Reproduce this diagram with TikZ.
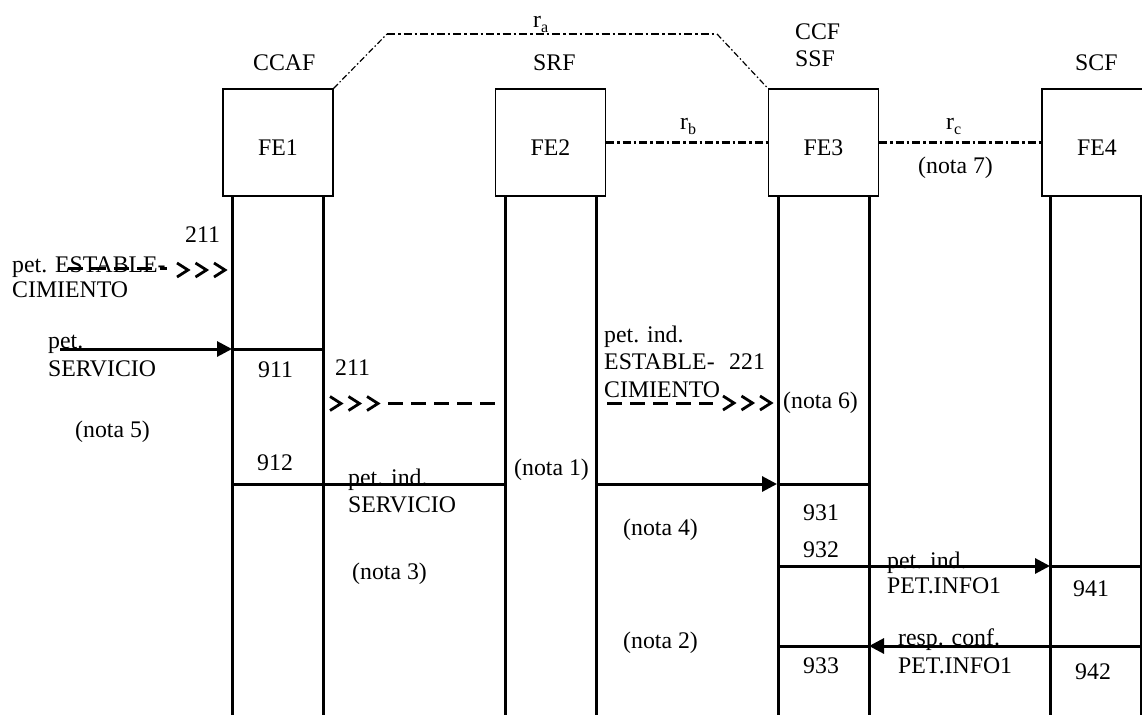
\documentclass[tikz,border=0pt]{standalone}
\usepackage{fontspec}
\setmainfont{Liberation Serif}
\usetikzlibrary{arrows.meta}
\tikzset{
  lifeline/.style={line width=3pt},
  msg/.style={line width=3pt},
  arr/.style={line width=3pt,-{Triangle[length=15pt,width=15pt]}},
  dashmsg/.style={line width=3pt,dash pattern=on 15pt off 8pt},
  rel/.style={line width=2.5pt,dash pattern=on 8pt off 3pt on 2.5pt off 3pt},
  reldiag/.style={line width=1.2pt,dash pattern=on 6pt off 2.5pt on 1.5pt off 2.5pt},
  febox/.style={draw,line width=1.3pt,minimum width=110pt,minimum height=107pt,
    text height=25pt,text depth=0pt,inner sep=0pt},
  lbl/.style={anchor=base west,inner sep=0pt},
  chevrons/.pic={
    \foreach \i in {0,1,2}{
      \draw[line width=2.8pt] ({\i*18.5},-7) -- ({\i*18.5+11},0) -- ({\i*18.5},7);
    }
  }
}
\newcommand{\subsc}[1]{\raisebox{-5pt}{\fontsize{16}{16}\selectfont #1}}
\begin{document}
\begin{tikzpicture}[x=1pt,y=-1pt,font=\fontsize{23.8}{28}\selectfont]
\useasboundingbox (0,0) rectangle (1142,715);
\clip (0,0) rectangle (1142,715);
\fill[white] (0,0) rectangle (1142,715);

% boxes
\node[febox] (fe1) at (278,142.5) {FE1};
\node[febox] (fe2) at (550.5,142.5) {FE2};
\node[febox] (fe3) at (823.5,142.5) {FE3};
\node[febox] (fe4) at (1097,142.5) {FE4};

% entity names
\node[lbl] (ccaf) at (253,70) {CCAF};
\node[lbl] (srf) at (533,70) {SRF};
\node[lbl] (ccf) at (795,39) {CCF};
\node[lbl] (ssf) at (795,66) {SSF};
\node[lbl] (scf) at (1075,70) {SCF};

% relations
\coordinate (ra1) at (387,34);
\coordinate (ra2) at (717,34);
\draw[reldiag] (fe1.north east) -- (ra1);
\draw[rel] (ra1) -- (ra2);
\draw[reldiag] (ra2) -- (fe3.north west);
\draw[rel] (fe2.east) -- (fe3.west);
\draw[rel] (fe3.east) -- (fe4.west);
\node[lbl] (ralbl) at (533,27) {r\subsc{a}};
\node[lbl] (rblbl) at (680,129) {r\subsc{b}};
\node[lbl] (rclbl) at (946,129) {r\subsc{c}};
\node[lbl] (n7) at (918,173) {(nota 7)};

% lifelines
\foreach \x/\n in {232/a1,323/a2,505/b1,596/b2,778/c1,869/c2,1050/d1,1141/d2}{
  \coordinate (top\n) at (\x,196);
  \coordinate (bot\n) at (\x,715);
  \draw[lifeline] (top\n) -- (bot\n);
}

% pet. ESTABLECIMIENTO (incoming)
\node[lbl] (t211a) at (185,242) {211};
\node[lbl] (pe1) at (12,272) {pet. ESTABLE-};
\node[lbl] (pe2) at (12,297) {CIMIENTO};
\coordinate (e0) at (68,268);
\coordinate (e1) at (167,268);
\draw[dashmsg] (e0) -- (e1);
\pic at (177,270) {chevrons};

% pet. SERVICIO
\coordinate (s0) at (60,349);
\coordinate (s1) at (232,349);
\coordinate (s2) at (323,349);
\draw[arr] (s0) -- (s1);
\draw[msg] (s1) -- (s2);
\node[lbl] (ps1) at (48,348) {pet.};
\node[lbl] (ps2) at (48,376) {SERVICIO};
\node[lbl] (t911) at (258,377) {911};

% second 211 / 221
\node[lbl] (t211b) at (335,375) {211};
\pic at (330,403.5) {chevrons};
\coordinate (m0) at (388,403);
\coordinate (m1) at (495,403);
\draw[dashmsg] (m0) -- (m1);
\node[lbl] (pie1) at (604,342) {pet. ind.};
\node[lbl] (pie2) at (604,369) {ESTABLE-};
\node[lbl] (t221) at (729,369) {221};
\node[lbl] (pie3) at (604,397) {CIMIENTO};
\coordinate (m2) at (607,403);
\coordinate (m3) at (713,403);
\draw[dashmsg] (m2) -- (m3);
\pic at (723,403) {chevrons};
\node[lbl] (n6) at (783,408) {(nota 6)};
\node[lbl] (n5) at (75,437) {(nota 5)};

% pet. ind. SERVICIO
\node[lbl] (t912) at (257,470) {912};
\node[lbl] (n1) at (514,475) {(nota 1)};
\coordinate (v0) at (232,484);
\coordinate (v1) at (505,484);
\coordinate (v2) at (596,484);
\coordinate (v3) at (777,484);
\coordinate (v4) at (869,484);
\draw[msg] (v0) -- (v1);
\draw[arr] (v2) -- (v3);
\draw[msg] (v3) -- (v4);
\node[lbl] (pis1) at (348,485) {pet. ind.};
\node[lbl] (pis2) at (348,512) {SERVICIO};
\node[lbl] (t931) at (803,520) {931};
\node[lbl] (n4) at (623,535) {(nota 4)};
\node[lbl] (t932) at (803,557) {932};
\node[lbl] (n3) at (352,579) {(nota 3)};

% pet. ind. PET.INFO1
\coordinate (w0) at (778,566);
\coordinate (w1) at (869,566);
\coordinate (w2) at (1050,566);
\coordinate (w3) at (1142,566);
\draw[msg] (w0) -- (w1);
\draw[arr] (w1) -- (w2);
\draw[msg] (w2) -- (w3);
\node[lbl] (pii1) at (887,568) {pet. ind.};
\node[lbl] (pii2) at (887,593) {PET.INFO1};
\node[lbl] (t941) at (1073,596) {941};

% resp. conf. PET.INFO1
\coordinate (r0) at (1142,646);
\coordinate (r1) at (1050,646);
\coordinate (r2) at (869,646);
\coordinate (r3) at (778,646);
\draw[msg] (r0) -- (r1);
\draw[arr] (r1) -- (r2);
\draw[msg] (r2) -- (r3);
\node[lbl] (rc1) at (898,645) {resp. conf.};
\node[lbl] (rc2) at (898,673) {PET.INFO1};
\node[lbl] (t933) at (803,673) {933};
\node[lbl] (t942) at (1075,679) {942};
\node[lbl] (n2) at (623,648) {(nota 2)};
\end{tikzpicture}
\end{document}
